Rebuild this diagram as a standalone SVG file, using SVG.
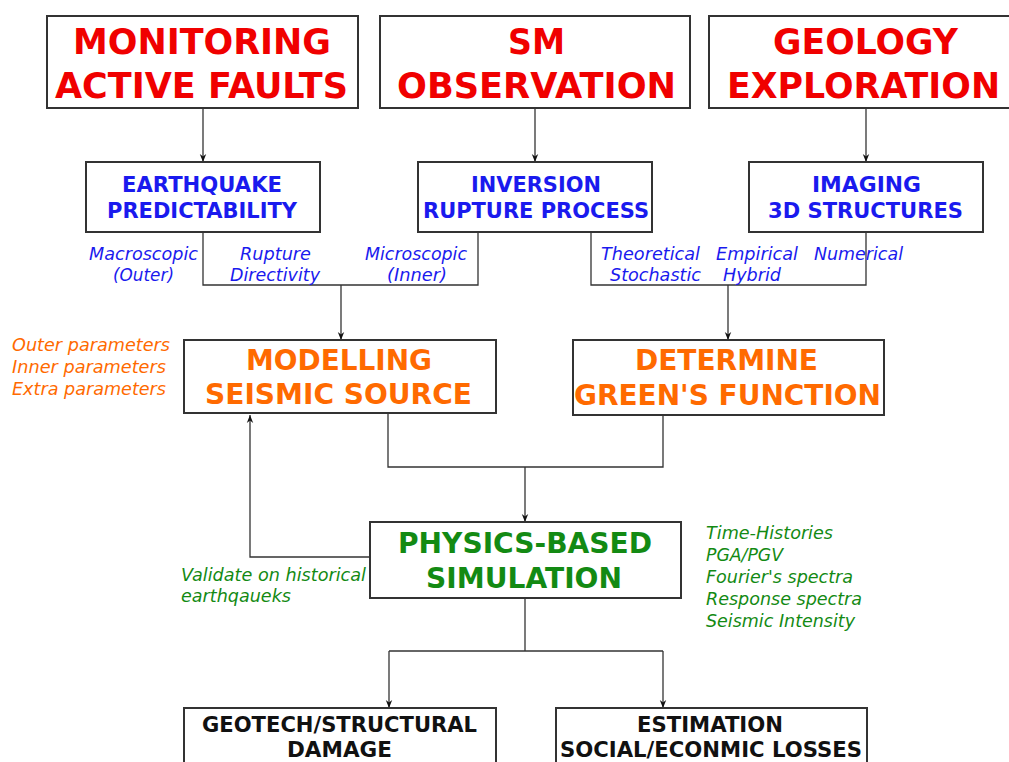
<svg xmlns="http://www.w3.org/2000/svg" width="1009" height="762" viewBox="0 0 1009 762">
<defs>
<marker id="arr" viewBox="0 0 10 10" refX="10" refY="5" markerWidth="8" markerHeight="10" markerUnits="userSpaceOnUse" orient="auto">
<path d="M0,1 L10,5 L0,9 L3,5 Z" fill="#111"/>
</marker>
</defs>
<style>
.box{fill:#fff;stroke:#333;stroke-width:2}
text{font-family:"DejaVu Sans",sans-serif}
.t{font-weight:bold;text-anchor:middle}
.big{font-size:36px;fill:#f00000}
.mid{font-size:21px;fill:#1a1aee}
.or{font-size:28px;fill:#ff6a00}
.gr{font-size:28px;fill:#138a13}
.bk{font-size:21px;fill:#111}
.lab{font-style:italic;font-size:17px}
.lb{fill:#1a1aee}
.lo{fill:#ff6a00}
.lg{fill:#138a13}
.c{fill:none;stroke:#333;stroke-width:1.3}
</style>
<rect width="1009" height="762" fill="#fff"/>
<g id="connectors">
<line class="c" x1="203" y1="108" x2="203" y2="162" marker-end="url(#arr)"/>
<line class="c" x1="535" y1="108" x2="535" y2="162" marker-end="url(#arr)"/>
<line class="c" x1="866" y1="108" x2="866" y2="162" marker-end="url(#arr)"/>
<polyline class="c" points="203,232 203,285 478,285 478,232"/>
<line class="c" x1="341" y1="285" x2="341" y2="340" marker-end="url(#arr)"/>
<polyline class="c" points="591,232 591,285 866,285 866,232"/>
<line class="c" x1="728" y1="285" x2="728" y2="340" marker-end="url(#arr)"/>
<polyline class="c" points="388,413 388,467 663,467 663,415"/>
<line class="c" x1="525" y1="467" x2="525" y2="522" marker-end="url(#arr)"/>
<polyline class="c" points="370,557 250,557 250,415" marker-end="url(#arr)"/>
<line class="c" x1="525" y1="598" x2="525" y2="651"/>
<line class="c" x1="389" y1="651" x2="663" y2="651"/>
<line class="c" x1="389" y1="651" x2="389" y2="708" marker-end="url(#arr)"/>
<line class="c" x1="663" y1="651" x2="663" y2="708" marker-end="url(#arr)"/>
</g>
<g id="monitoring">
<rect class="box" x="47" y="16" width="311" height="92"/>
<text class="t big" x="202" y="54" textLength="258" lengthAdjust="spacingAndGlyphs">MONITORING</text>
<text class="t big" x="201.5" y="98" textLength="293" lengthAdjust="spacingAndGlyphs">ACTIVE FAULTS</text>
</g>
<g id="sm">
<rect class="box" x="380" y="16" width="310" height="92"/>
<text class="t big" x="536.5" y="54" textLength="57" lengthAdjust="spacingAndGlyphs">SM</text>
<text class="t big" x="536.5" y="98" textLength="279" lengthAdjust="spacingAndGlyphs">OBSERVATION</text>
</g>
<g id="geology">
<rect class="box" x="709" y="16" width="310" height="92"/>
<text class="t big" x="865.5" y="54" textLength="185" lengthAdjust="spacingAndGlyphs">GEOLOGY</text>
<text class="t big" x="863.5" y="98" textLength="273" lengthAdjust="spacingAndGlyphs">EXPLORATION</text>
</g>
<g id="predictability">
<rect class="box" x="86" y="162" width="234" height="70"/>
<text class="t mid" x="202" y="192" textLength="160" lengthAdjust="spacingAndGlyphs">EARTHQUAKE</text>
<text class="t mid" x="202" y="218" textLength="190" lengthAdjust="spacingAndGlyphs">PREDICTABILITY</text>
</g>
<g id="inversion">
<rect class="box" x="418" y="162" width="234" height="70"/>
<text class="t mid" x="536" y="192" textLength="130" lengthAdjust="spacingAndGlyphs">INVERSION</text>
<text class="t mid" x="536" y="218" textLength="226" lengthAdjust="spacingAndGlyphs">RUPTURE PROCESS</text>
</g>
<g id="imaging">
<rect class="box" x="749" y="162" width="234" height="70"/>
<text class="t mid" x="866.5" y="192" textLength="109" lengthAdjust="spacingAndGlyphs">IMAGING</text>
<text class="t mid" x="865.5" y="218" textLength="195" lengthAdjust="spacingAndGlyphs">3D STRUCTURES</text>
</g>
<g id="source-labels">
<text class="lab lb" x="89" y="260" textLength="109" lengthAdjust="spacingAndGlyphs">Macroscopic</text>
<text class="lab lb" x="113" y="281" textLength="61" lengthAdjust="spacingAndGlyphs">(Outer)</text>
<text class="lab lb" x="240" y="260" textLength="71" lengthAdjust="spacingAndGlyphs">Rupture</text>
<text class="lab lb" x="230" y="281" textLength="90" lengthAdjust="spacingAndGlyphs">Directivity</text>
<text class="lab lb" x="365" y="260" textLength="102" lengthAdjust="spacingAndGlyphs">Microscopic</text>
<text class="lab lb" x="387" y="281" textLength="60" lengthAdjust="spacingAndGlyphs">(Inner)</text>
<text class="lab lb" x="601" y="260" textLength="99" lengthAdjust="spacingAndGlyphs">Theoretical</text>
<text class="lab lb" x="610" y="281" textLength="91" lengthAdjust="spacingAndGlyphs">Stochastic</text>
<text class="lab lb" x="716" y="260" textLength="82" lengthAdjust="spacingAndGlyphs">Empirical</text>
<text class="lab lb" x="723" y="281" textLength="58" lengthAdjust="spacingAndGlyphs">Hybrid</text>
<text class="lab lb" x="814" y="260" textLength="89" lengthAdjust="spacingAndGlyphs">Numerical</text>
</g>
<g id="modelling">
<rect class="box" x="184" y="340" width="312" height="73"/>
<text class="t or" x="339" y="370" textLength="186" lengthAdjust="spacingAndGlyphs">MODELLING</text>
<text class="t or" x="338.5" y="404" textLength="267" lengthAdjust="spacingAndGlyphs">SEISMIC SOURCE</text>
</g>
<g id="param-labels">
<text class="lab lo" x="12" y="351" textLength="158" lengthAdjust="spacingAndGlyphs">Outer parameters</text>
<text class="lab lo" x="12" y="373" textLength="154" lengthAdjust="spacingAndGlyphs">Inner parameters</text>
<text class="lab lo" x="12" y="395" textLength="154" lengthAdjust="spacingAndGlyphs">Extra parameters</text>
</g>
<g id="greens">
<rect class="box" x="573" y="340" width="311" height="75"/>
<text class="t or" x="726.5" y="370" textLength="183" lengthAdjust="spacingAndGlyphs">DETERMINE</text>
<text class="t or" x="727.5" y="405" textLength="307" lengthAdjust="spacingAndGlyphs">GREEN'S FUNCTION</text>
</g>
<g id="physics">
<rect class="box" x="370" y="522" width="311" height="76"/>
<text class="t gr" x="525" y="553" textLength="254" lengthAdjust="spacingAndGlyphs">PHYSICS-BASED</text>
<text class="t gr" x="524" y="588" textLength="196" lengthAdjust="spacingAndGlyphs">SIMULATION</text>
</g>
<g id="validate-labels">
<text class="lab lg" x="181" y="581" textLength="185" lengthAdjust="spacingAndGlyphs">Validate on historical</text>
<text class="lab lg" x="181" y="602" textLength="110" lengthAdjust="spacingAndGlyphs">earthqaueks</text>
</g>
<g id="output-labels">
<text class="lab lg" x="706" y="539" textLength="127" lengthAdjust="spacingAndGlyphs">Time-Histories</text>
<text class="lab lg" x="706" y="561" textLength="77" lengthAdjust="spacingAndGlyphs">PGA/PGV</text>
<text class="lab lg" x="706" y="583" textLength="147" lengthAdjust="spacingAndGlyphs">Fourier's spectra</text>
<text class="lab lg" x="706" y="605" textLength="156" lengthAdjust="spacingAndGlyphs">Response spectra</text>
<text class="lab lg" x="706" y="627" textLength="149" lengthAdjust="spacingAndGlyphs">Seismic Intensity</text>
</g>
<g id="damage">
<rect class="box" x="184" y="708" width="312" height="70"/>
<text class="t bk" x="339.5" y="732" textLength="275" lengthAdjust="spacingAndGlyphs">GEOTECH/STRUCTURAL</text>
<text class="t bk" x="339.5" y="757" textLength="105" lengthAdjust="spacingAndGlyphs">DAMAGE</text>
</g>
<g id="losses">
<rect class="box" x="556" y="708" width="311" height="70"/>
<text class="t bk" x="710" y="732" textLength="146" lengthAdjust="spacingAndGlyphs">ESTIMATION</text>
<text class="t bk" x="711" y="757" textLength="302" lengthAdjust="spacingAndGlyphs">SOCIAL/ECONMIC LOSSES</text>
</g>
</svg>
